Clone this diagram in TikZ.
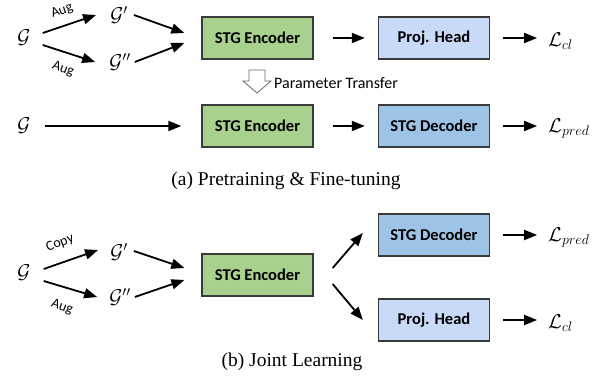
\documentclass[tikz,border=0pt]{standalone}
\usepackage{fix-cm}
\usepackage{fontspec}
\setmainfont{Liberation Serif}
\newfontfamily\cf{Carlito}
\usetikzlibrary{arrows.meta,calc}
\definecolor{encg}{HTML}{A9D18E}
\definecolor{projb}{HTML}{C9DAF8}
\definecolor{decb}{HTML}{9DC3E6}
\definecolor{boxline}{HTML}{3A3A3A}
\begin{document}
\begin{tikzpicture}[x=1pt,y=-1pt,
 box/.style={draw=boxline,line width=1.3pt,minimum width=111pt,minimum height=42pt,font=\cf\bfseries\fontsize{16.5}{18}\selectfont,inner sep=0pt},
 arr/.style={line width=1.8pt,-{Triangle[length=13pt,width=10pt]}},
 gr/.style={font=\fontsize{20}{24}\selectfont,inner sep=0pt},
 lbl/.style={font=\cf\fontsize{14}{16}\selectfont,inner sep=0pt},
 captxt/.style={font=\fontsize{19.5}{22}\selectfont,inner sep=0pt}]
\useasboundingbox (0,0) rectangle (613,379);
% ---------- (a) top row
\node[gr] (ga) at (24,38) {$\mathcal{G}$};
\node[gr] (gap) at (119,15) {$\mathcal{G}'$};
\node[gr] (gapp) at (120,62) {$\mathcal{G}''$};
\node[box,fill=encg] (enca) at (257.5,38) {STG Encoder};
\node[box,fill=projb] (proja) at (434,38) {Proj. Head};
\node[gr,anchor=west] (lcla) at (548,41) {$\mathcal{L}_{cl}$};
\node[lbl,rotate=20] (auga) at (62,11) {Aug};
\node[lbl,rotate=-20] (augb) at (63,69) {Aug};
\draw[arr] ($(ga.east)+(12,-5)$) -- ($(gap.west)+(-14,0)$);
\draw[arr] ($(ga.east)+(12,7)$) -- ($(gapp.west)+(-14,0)$);
\draw[arr] ($(gap.east)+(6,0)$) -- ($(enca.west)+(-17,-5)$);
\draw[arr] ($(gapp.east)+(4,0)$) -- ($(enca.west)+(-17,5)$);
\draw[arr] ($(enca.east)+(19,0)$) -- ($(proja.west)+(-13,0)$);
\draw[arr] ($(proja.east)+(13,0)$) -- ($(proja.east)+(47,0)$);
% transfer arrow
\draw[draw=gray!80!black,line width=0.8pt,fill=white,line join=miter]
  (249,70) -- (265,70) -- (265,81) -- (271,81) -- (257,93) -- (243,81) -- (249,81) -- cycle;
\node[lbl,anchor=west,font=\cf\fontsize{16}{18}\selectfont] (pt) at (274,83) {Parameter Transfer};
% second row
\node[gr] (gb) at (24,126) {$\mathcal{G}$};
\node[box,fill=encg] (encb) at (257.5,126) {STG Encoder};
\node[box,fill=decb] (decb) at (434,126) {STG Decoder};
\node[gr,anchor=west] (lpra) at (548,129) {$\mathcal{L}_{pred}$};
\draw[arr] ($(gb.east)+(14,0)$) -- ($(encb.west)+(-20,0)$);
\draw[arr] ($(encb.east)+(19,0)$) -- ($(decb.west)+(-13,0)$);
\draw[arr] ($(decb.east)+(13,0)$) -- ($(decb.east)+(47,0)$);
\node[captxt] (capa) at (286,181) {(a) Pretraining \& Fine-tuning};
% ---------- (b)
\node[gr] (gc) at (24,273) {$\mathcal{G}$};
\node[gr] (gcp) at (119,252) {$\mathcal{G}'$};
\node[gr] (gcpp) at (120,297) {$\mathcal{G}''$};
\node[lbl,rotate=20] (copy) at (60,243) {Copy};
\node[lbl,rotate=-20] (augc) at (62,307) {Aug};
\node[box,fill=encg] (encc) at (257.5,275) {STG Encoder};
\node[box,fill=decb] (decc) at (434,235) {STG Decoder};
\node[box,fill=projb] (projc) at (434,320) {Proj. Head};
\node[gr,anchor=west] (lprc) at (548,238) {$\mathcal{L}_{pred}$};
\node[gr,anchor=west] (lclc) at (548,323) {$\mathcal{L}_{cl}$};
\draw[arr] ($(gc.east)+(13,-4)$) -- ($(gcp.west)+(-12,-2)$);
\draw[arr] ($(gc.east)+(13,8)$) -- ($(gcpp.west)+(-12,0)$);
\draw[arr] ($(gcp.east)+(6,-1)$) -- ($(encc.west)+(-17,-7)$);
\draw[arr] ($(gcpp.east)+(4,0)$) -- ($(encc.west)+(-17,5)$);
\draw[arr] ($(encc.east)+(19,-7)$) -- ($(decc.west)+(-15,-2)$);
\draw[arr] ($(encc.east)+(19,9)$) -- ($(projc.west)+(-15,0)$);
\draw[arr] ($(decc.east)+(13,0)$) -- ($(decc.east)+(47,0)$);
\draw[arr] ($(projc.east)+(13,0)$) -- ($(projc.east)+(47,0)$);
\node[captxt] (capb) at (292,362) {(b) Joint Learning};
\end{tikzpicture}
\end{document}
